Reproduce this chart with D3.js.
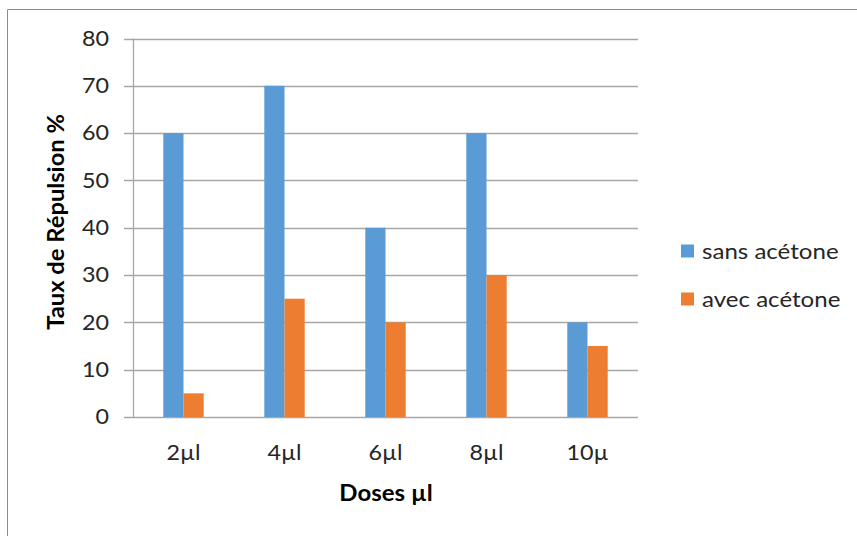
<!DOCTYPE html>
<html><head><meta charset="utf-8">
<script src="https://cdn.jsdelivr.net/npm/d3@7"></script>
<style>body{margin:0;background:#fff}svg{display:block;font-family:Lato,"Open Sans",sans-serif}</style>
</head><body><svg id="c" width="857" height="536"></svg>
<script>
const categories = ["2µl","4µl","6µl","8µl","10µ"];
const sansAcetone = [60,70,40,60,20];
const avecAcetone = [5,25,20,30,15];
const yTicks = [0,10,20,30,40,50,60,70,80];
const seriesNames = ["sans acétone","avec acétone"];
const colors = ["#5B9BD5","#ED7D31"];

(function(){
const svg = d3.select("#c");
svg.append("path").attr("d","M7.5,536 V9.5 H857").attr("fill","none").attr("stroke","#8c8c8c").attr("stroke-width",1);

const pLeft=133, pRight=638, pTop=38.5, pBottom=417;
const x = d3.scaleBand().domain(categories).range([pLeft,pRight]).paddingInner(0.6).paddingOuter(0.3);
const xs = d3.scaleBand().domain([0,1]).range([0,x.bandwidth()]);
const y = d3.scaleLinear().domain([0,80]).range([pBottom,pTop]);

function label(g, tx, ty, str, size, sx, anchor, weight, rot, fill){
  const t = g.append("g").attr("transform",`translate(${tx},${ty})${rot?` rotate(${rot})`:""} scale(${sx},1)`);
  t.append("text").attr("dy","0.35em").attr("text-anchor",anchor).attr("font-size",size)
    .attr("font-weight",weight||"normal").attr("fill",fill||"#262626").text(str);
}

svg.append("g").selectAll("line").data(yTicks).join("line")
  .attr("x1",124).attr("x2",pRight).attr("y1",d=>Math.round(y(d))+0.5).attr("y2",d=>Math.round(y(d))+0.5)
  .attr("stroke","#a6a6a6").attr("stroke-width",1.3);
svg.append("line").attr("x1",pLeft+0.5).attr("x2",pLeft+0.5).attr("y1",pTop).attr("y2",pBottom+0.5)
  .attr("stroke","#a6a6a6").attr("stroke-width",1.3);

const yl = svg.append("g");
yTicks.forEach(d=>label(yl,109,y(d),d,21,1.11,"end"));

const series=[sansAcetone,avecAcetone];
series.forEach((vals,si)=>{
  svg.append("g").selectAll("rect").data(vals).join("rect")
    .attr("x",(d,i)=>x(categories[i])+xs(si))
    .attr("width",xs.bandwidth())
    .attr("y",d=>y(d)).attr("height",d=>y(0)-y(d))
    .attr("fill",colors[si]);
});

const xl = svg.append("g");
categories.forEach(c=>label(xl,x(c)+x.bandwidth()/2,453,c,21,1.11,"middle"));

label(svg,386,493,"Doses µl",22,1.09,"middle","bold",0,"#000");
label(svg,56,222,"Taux de Répulsion %",22,1.08,"middle","bold",-90,"#000");

const lg = svg.append("g");
seriesNames.forEach((n,i)=>{
  const cy = 251 + i*48;
  lg.append("rect").attr("x",681).attr("y",cy-6.5).attr("width",13).attr("height",13).attr("fill",colors[i]);
  label(lg,702,cy,n,21.5,1.12,"start");
});
})();
</script></body></html>
